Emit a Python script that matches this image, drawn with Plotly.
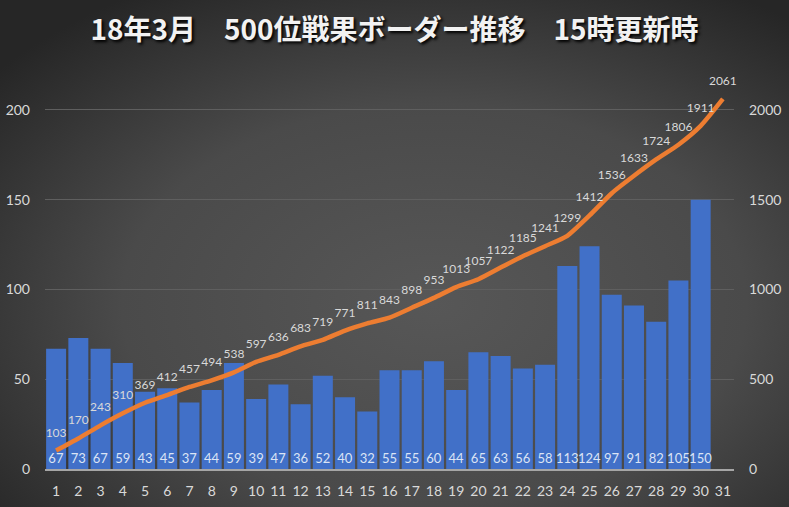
import base64
import plotly.graph_objects as go

days = list(range(1, 32))
bar_days = list(range(1, 31))
daily_gain = [67, 73, 67, 59, 43, 45, 37, 44, 59, 39, 47, 36, 52, 40, 32,
              55, 55, 60, 44, 65, 63, 56, 58, 113, 124, 97, 91, 82, 105, 150]
border = [103, 170, 243, 310, 369, 412, 457, 494, 538, 597, 636, 683, 719, 771,
          811, 843, 898, 953, 1013, 1057, 1122, 1185, 1241, 1299, 1412, 1536,
          1633, 1724, 1806, 1911, 2061]
left_ticks = [0, 50, 100, 150, 200]
right_ticks = [0, 500, 1000, 1500, 2000]
title_text = "18年3月　500位戦果ボーダー推移　15時更新時"

W, H = 789, 507
ML, MR, MT, MB = 45, 55, 65, 38
pw, ph = W - ML - MR, H - MT - MB

svg = f'''<svg xmlns="http://www.w3.org/2000/svg" width="{W}" height="{H}" viewBox="0 0 {W} {H}" preserveAspectRatio="none">
<defs><radialGradient id="g" cx="0.55" cy="0.6" r="0.72" fx="0.55" fy="0.6">
<stop offset="0" stop-color="#575757"/><stop offset="0.55" stop-color="#4a4a4a"/><stop offset="1" stop-color="#262626"/>
</radialGradient></defs><rect width="{W}" height="{H}" fill="url(#g)"/></svg>'''
src = "data:image/svg+xml;base64," + base64.b64encode(svg.encode()).decode()

font_fam = "Lato, 'Noto Sans', sans-serif"

fig = go.Figure()
fig.add_trace(go.Bar(
    x=bar_days, y=daily_gain, yaxis="y",
    marker=dict(color="#4170c8", line=dict(width=0)),
    text=[str(v) for v in daily_gain], textposition="inside",
    insidetextanchor="start",
    textfont=dict(color="#dbe4f5", size=13, family=font_fam),
    textangle=0, constraintext="none", cliponaxis=False,
    hoverinfo="skip",
))
fig.add_trace(go.Scatter(
    x=days, y=border, yaxis="y2", mode="lines+markers+text",
    line=dict(color="#ed7d31", width=4.5, shape="spline", smoothing=0.6),
    marker=dict(size=16, color="rgba(0,0,0,0)"),
    text=[str(v) for v in border], textposition="top center",
    textfont=dict(color="#d9d9d9", size=12, family=font_fam),
    cliponaxis=False, hoverinfo="skip",
))

fig.update_layout(
    width=W, height=H,
    margin=dict(l=ML, r=MR, t=MT, b=MB, autoexpand=False),
    paper_bgcolor="#3a3a3a", plot_bgcolor="rgba(0,0,0,0)",
    showlegend=False, bargap=0.1,
    title=dict(text=title_text, x=0.5, xanchor="center", y=1 - 30 / H, yanchor="middle",
               font=dict(family="'Noto Sans CJK JP', sans-serif", size=28, color="#f2f2f2",
                         weight="bold", shadow="2px 2px 3px #000000")),
    images=[dict(source=src, xref="paper", yref="paper",
                 x=-ML / pw, y=1 + MT / ph, sizex=W / pw, sizey=H / ph,
                 xanchor="left", yanchor="top", sizing="stretch", layer="below")],
    xaxis=dict(range=[0.5, 31.5], tickmode="array", tickvals=days,
               ticktext=[str(d) for d in days], showgrid=False, zeroline=False,
               showline=True, linecolor="#a6a6a6", linewidth=2, ticks="",
               tickfont=dict(color="#d9d9d9", size=14, family=font_fam),
               ticklabelstandoff=8, fixedrange=True, automargin=False),
    yaxis=dict(range=[0, 225], tickmode="array", tickvals=left_ticks,
               showgrid=True, gridcolor="#5f5f5f", gridwidth=1, zeroline=False,
               showline=False, ticks="", automargin=False,
               tickfont=dict(color="#d9d9d9", size=14, family=font_fam),
               ticklabelstandoff=14),
    yaxis2=dict(range=[0, 2250], tickmode="array", tickvals=right_ticks,
                overlaying="y", side="right", showgrid=False, zeroline=False,
                showline=False, ticks="", automargin=False,
                tickfont=dict(color="#d9d9d9", size=14, family=font_fam),
                ticklabelstandoff=14),
)

fig.write_html("out.html", config={"displayModeBar": False},
               post_script="document.body.style.margin='0';document.body.style.overflow='hidden';")
